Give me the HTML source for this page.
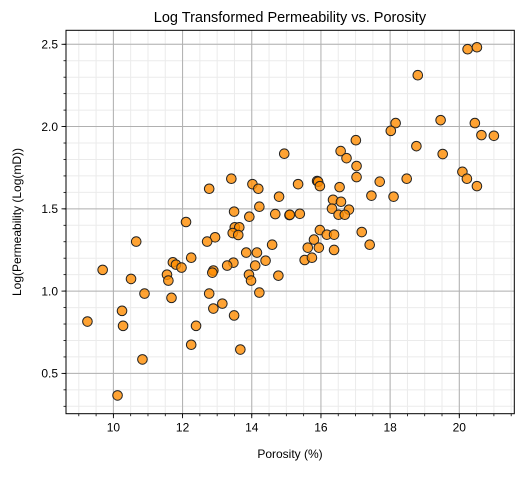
<!DOCTYPE html>
<html><head><meta charset="utf-8"><style>
html,body{margin:0;padding:0;background:#fff;}
svg text{font-family:"Liberation Sans","DejaVu Sans",sans-serif;fill:#000;}
</style></head><body>
<svg id="chart" width="524" height="472" xmlns="http://www.w3.org/2000/svg">
<rect width="524" height="472" fill="#fff"/>
<g id="grid"></g><g id="pts"></g><g id="axes"></g>
<text x="290" y="22" text-anchor="middle" font-size="14.5">Log Transformed Permeability vs. Porosity</text>
<text x="290" y="458" text-anchor="middle" font-size="12">Porosity (%)</text>
<text x="21" y="222" text-anchor="middle" font-size="12" transform="rotate(-90 21 222)">Log(Permeability (Log(mD))</text>
</svg>
<script>
const porosity=[14.94,13.41,14.02,14.19,12.77,14.79,14.22,13.49,13.93,14.68,15.09,12.10,13.51,13.64,13.45,13.61,12.94,12.71,10.66,14.59,13.84,14.15,12.25,14.40,11.72,11.81,11.97,14.10,13.47,13.29,12.89,12.86,9.69,11.55,13.92,14.77,11.59,13.98,10.51,10.90,12.77,14.22,11.68,13.15,12.89,10.25,13.49,9.25,10.28,12.39,12.25,13.67,10.84,10.12,
20.24,20.51,18.80,19.46,20.45,18.16,18.02,20.64,21.00,17.01,18.76,19.52,16.57,16.74,17.03,17.03,20.09,20.22,20.51,18.48,17.70,15.89,15.92,15.97,15.34,16.54,17.46,18.10,16.35,16.58,16.32,16.81,16.51,16.69,15.39,15.10,15.97,16.17,16.38,17.18,15.80,15.62,15.94,16.38,17.41,15.53,15.74];
const logPerm=[1.835,1.683,1.65,1.622,1.622,1.574,1.513,1.483,1.452,1.468,1.462,1.42,1.388,1.388,1.353,1.341,1.327,1.301,1.301,1.282,1.234,1.234,1.203,1.185,1.175,1.161,1.143,1.155,1.173,1.155,1.125,1.112,1.129,1.100,1.100,1.094,1.064,1.064,1.074,0.985,0.985,0.991,0.959,0.924,0.894,0.880,0.852,0.815,0.789,0.789,0.674,0.645,0.585,0.366,
2.47,2.482,2.312,2.039,2.021,2.021,1.974,1.948,1.944,1.917,1.881,1.833,1.851,1.808,1.760,1.693,1.725,1.683,1.638,1.683,1.665,1.669,1.665,1.638,1.650,1.632,1.580,1.574,1.555,1.543,1.501,1.495,1.464,1.464,1.470,1.464,1.371,1.343,1.343,1.359,1.313,1.264,1.264,1.250,1.282,1.189,1.203];
const xTicks=[10,12,14,16,18,20];
const yTicks=[0.5,1.0,1.5,2.0,2.5];
const xMin=8.63,xMax=21.59,yMin=0.255,yMax=2.585;
const L=66,R=514.3,T=30.3,B=413.7;
const NS="http://www.w3.org/2000/svg";
function sx(v){return L+(v-xMin)/(xMax-xMin)*(R-L);}
function sy(v){return B-(v-yMin)/(yMax-yMin)*(B-T);}
function mk(tag,attrs,parent){const e=document.createElementNS(NS,tag);for(const k in attrs)e.setAttribute(k,attrs[k]);parent.appendChild(e);return e;}
const grid=document.getElementById('grid'),axes=document.getElementById('axes'),pts=document.getElementById('pts');
// minor grid
for(let v=9;v<=21.5;v+=0.5){const x=sx(v);
 const g=mk('line',{x1:x,x2:x,y1:T,y2:B,stroke:'#ebebeb','stroke-width':1},grid);
 
 const t=mk('line',{x1:x,x2:x,y1:B,y2:B+2.5,stroke:'#000','stroke-width':0.8},axes);
 }
for(let i=3;i<=25;i++){const v=i/10;const y=sy(v);
 const g=mk('line',{x1:L,x2:R,y1:y,y2:y,stroke:'#ebebeb','stroke-width':1},grid);
 
 const t=mk('line',{x1:L-2.5,x2:L,y1:y,y2:y,stroke:'#000','stroke-width':0.8},axes);
 }
xTicks.forEach(v=>{const x=sx(v);
 const g=mk('line',{x1:x,x2:x,y1:T,y2:B,stroke:'#b0b0b0','stroke-width':1},grid);
 
 const t=mk('line',{x1:x,x2:x,y1:B,y2:B+4.5,stroke:'#000','stroke-width':0.9},axes);
 
 const l=mk('text',{x:x,y:B+18,'text-anchor':'middle','font-size':12},axes);l.textContent=v;
 });
yTicks.forEach(v=>{const y=sy(v);
 const g=mk('line',{x1:L,x2:R,y1:y,y2:y,stroke:'#b0b0b0','stroke-width':1},grid);
 
 const t=mk('line',{x1:L-4.5,x2:L,y1:y,y2:y,stroke:'#000','stroke-width':0.9},axes);
 
 const l=mk('text',{x:L-8,y:y+4.3,'text-anchor':'end','font-size':12},axes);l.textContent=v.toFixed(1);
 });
const fr=mk('rect',{x:L,y:T,width:R-L,height:B-T,fill:'none',stroke:'#000','stroke-width':1},axes);

porosity.forEach((p,i)=>{
 const c=mk('circle',{cx:sx(p),cy:sy(logPerm[i]),r:4.8,fill:'#ff8c00','fill-opacity':0.8,stroke:'#222','stroke-width':1},pts);
 });
</script>
</body></html>
